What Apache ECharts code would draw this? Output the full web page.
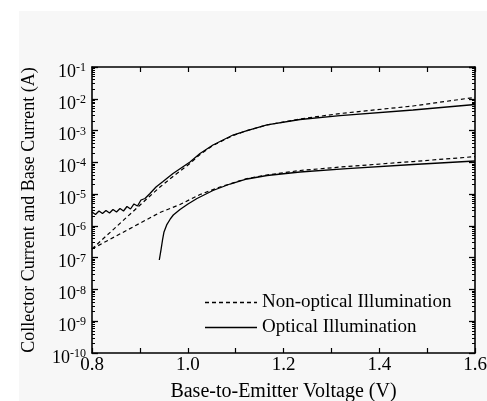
<!DOCTYPE html>
<html>
<head>
<meta charset="utf-8">
<script src="https://cdn.jsdelivr.net/npm/echarts@6/dist/echarts.min.js"></script>
<style>
html, body { margin: 0; padding: 0; background: #ffffff; }
#wrap { position: absolute; left: 0; top: 0; width: 487px; height: 401px; background: #ffffff; }
#chart { position: absolute; left: 19px; top: 11px; width: 468px; height: 390px; }
</style>
</head>
<body>
<div id="wrap"><div id="chart"></div></div>
<script>
// ---- data ----
const seriesNames = ['Non-optical Illumination', 'Optical Illumination'];

// Collector current, non-optical (dashed, upper)
const icDarkV = [0.8000, 0.9211, 0.9420, 0.9692, 1.0047, 1.0256, 1.0527, 1.0945, 1.1238, 1.1656, 1.2345, 1.3180, 1.4705, 1.6000];
const icDarkI = [1.88e-7, 8.73e-6, 1.67e-5, 3.59e-5, 9.20e-5, 1.77e-4, 3.39e-4, 7.00e-4, 1.00e-3, 1.50e-3, 2.31e-3, 3.44e-3, 5.93e-3, 1.11e-2];

// Collector current, optical (solid, upper)
const icLightV = [0.8000, 0.8073, 0.8146, 0.8219, 0.8292, 0.8366, 0.8439, 0.8512, 0.8585, 0.8658, 0.8731, 0.8804, 0.8877, 0.8950, 0.9023, 0.9107, 0.9211, 0.9337, 0.9483, 0.9692, 1.0047, 1.0256, 1.0527, 1.0945, 1.1238, 1.1656, 1.2345, 1.3180, 1.4705, 1.6000];
const icLightI = [2.74e-6, 2.29e-6, 2.94e-6, 2.45e-6, 3.05e-6, 2.55e-6, 3.28e-6, 2.74e-6, 3.53e-6, 2.94e-6, 4.07e-6, 3.40e-6, 4.89e-6, 4.23e-6, 6.53e-6, 7.28e-6, 1.05e-5, 1.67e-5, 2.49e-5, 4.46e-5, 1.03e-4, 1.90e-4, 3.52e-4, 7.24e-4, 1.00e-3, 1.50e-3, 2.23e-3, 2.94e-3, 4.44e-3, 6.61e-3];

// Base current, non-optical (dashed, lower)
const ibDarkV = [0.8000, 0.9420, 0.9838, 1.0256, 1.0674, 1.1238, 1.1656, 1.2345, 1.3326, 1.4705, 1.6000];
const ibDarkI = [1.88e-7, 2.64e-6, 4.71e-6, 9.73e-6, 1.67e-5, 3.10e-5, 4.00e-5, 5.53e-5, 7.40e-5, 1.06e-4, 1.51e-4];

// Base current, optical (solid, lower)
const ibLightV = [0.9406, 0.9441, 0.9473, 0.9504, 0.9560, 0.9629, 0.9698, 0.9838, 1.0005, 1.0193, 1.0527, 1.0883, 1.1238, 1.1656, 1.2345, 1.3326, 1.4705, 1.6000];
const ibLightI = [8.45e-8, 1.75e-7, 3.60e-7, 6.43e-7, 1.07e-6, 1.59e-6, 2.20e-6, 3.28e-6, 4.89e-6, 7.28e-6, 1.30e-5, 2.08e-5, 2.99e-5, 3.85e-5, 4.97e-5, 6.31e-5, 8.55e-5, 1.10e-4];

// axes
const xMin = 0.8, xMax = 1.6, xStep = 0.2;
const yExpMin = -10, yExpMax = -1;
const minorMultipliers = [2, 3, 4, 5, 6, 7, 8, 9];

// ---- build ----
function pairs(xs, ys) { return xs.map((x, i) => [x, ys[i]]); }
const minorValues = [];
for (let e = yExpMin; e < yExpMax; e++) {
  for (const m of minorMultipliers) minorValues.push(m * Math.pow(10, e));
}
// legend line icons (dashed and solid strokes)
function dashedIconPath(len, dash, gap) {
  let p = 'path://';
  for (let x = 0; x < len; x += dash + gap) {
    const w = Math.min(dash, len - x);
    p += 'M' + x + ',0h' + w + 'v1h-' + w + 'z';
  }
  return p;
}
const FONT = '"Liberation Serif", "Times New Roman", serif';
const BLACK = '#000000';

const chart = echarts.init(document.getElementById('chart'), null, { renderer: 'canvas' });

const yBase = {
  type: 'log', logBase: 10,
  min: Math.pow(10, yExpMin), max: Math.pow(10, yExpMax),
  interval: 1,
  splitLine: { show: false }, minorSplitLine: { show: false },
  gridIndex: 0
};
const yMajorTick = { show: true, inside: true, length: 6, lineStyle: { color: BLACK, width: 1.3 } };
const yMinorTick = { show: true, inside: true, length: 3, customValues: minorValues, lineStyle: { color: BLACK, width: 1 } };

const xBase = {
  type: 'value', min: xMin, max: xMax, interval: xStep,
  splitLine: { show: false },
  minorTick: { show: true, splitNumber: 2, length: 5, lineStyle: { color: BLACK, width: 1.2 } },
  axisTick: { show: true, inside: true, length: 5, lineStyle: { color: BLACK, width: 1.2 } },
  axisLine: { show: true, onZero: false, lineStyle: { color: BLACK, width: 1.5 } },
  gridIndex: 0
};

const option = {
  backgroundColor: '#f7f7f7',
  animation: false,
  grid: { left: 73, right: 12, top: 56, bottom: 48, containLabel: false, outerBoundsMode: 'none' },
  legend: {
    orient: 'vertical', left: 186, top: 282, padding: 0,
    itemWidth: 52, itemHeight: 1.3, itemGap: 6,
    symbolKeepAspect: false,
    data: [
      { name: seriesNames[0], icon: dashedIconPath(52, 4, 3) },
      { name: seriesNames[1], icon: 'path://M0,0h52v1h-52z' }
    ],
    textStyle: { fontFamily: FONT, fontSize: 19, color: BLACK },
    selectedMode: false
  },
  xAxis: [
    Object.assign({}, xBase, {
      position: 'bottom',
      name: 'Base-to-Emitter Voltage (V)', nameLocation: 'middle', nameGap: 29,
      nameTextStyle: { fontFamily: FONT, fontSize: 20, color: BLACK },
      axisLabel: {
        show: true, margin: 3, fontFamily: FONT, fontSize: 19, color: BLACK,
        formatter: v => v.toFixed(1), showMinLabel: true, showMaxLabel: true
      }
    }),
    Object.assign({}, xBase, { position: 'top', axisLabel: { show: false } })
  ],
  yAxis: [
    Object.assign({}, yBase, {
      position: 'left',
      axisLine: { show: true, onZero: false, lineStyle: { color: BLACK, width: 1.6 } },
      axisTick: yMajorTick,
      name: 'Collector Current and Base Current (A)', nameLocation: 'middle', nameGap: 54,
      nameTextStyle: { fontFamily: FONT, fontSize: 18, color: BLACK },
      axisLabel: {
        show: true, margin: 6, padding: [10, 0, 0, 0],
        formatter: v => '{b|10}{s|' + Math.round(Math.log10(v)) + '}',
        rich: {
          b: { fontFamily: FONT, fontSize: 18, color: BLACK, lineHeight: 20 },
          s: { fontFamily: FONT, fontSize: 12, color: BLACK, verticalAlign: 'top', lineHeight: 12 }
        }
      }
    }),
    Object.assign({}, yBase, {
      position: 'left',
      axisLine: { show: false }, axisLabel: { show: false },
      axisTick: yMinorTick
    }),
    Object.assign({}, yBase, {
      position: 'right',
      axisLine: { show: true, onZero: false, lineStyle: { color: BLACK, width: 1.6 } },
      axisLabel: { show: false },
      axisTick: yMajorTick
    }),
    Object.assign({}, yBase, {
      position: 'right',
      axisLine: { show: false }, axisLabel: { show: false },
      axisTick: yMinorTick
    })
  ],
  series: [
    {
      name: seriesNames[0], type: 'line', xAxisIndex: 0, yAxisIndex: 0,
      data: pairs(icDarkV, icDarkI), symbol: 'none', smooth: false,
      lineStyle: { color: BLACK, width: 1.2, type: [4, 3] }, itemStyle: { color: BLACK }
    },
    {
      name: seriesNames[0], type: 'line', xAxisIndex: 0, yAxisIndex: 0,
      data: pairs(ibDarkV, ibDarkI), symbol: 'none', smooth: false,
      lineStyle: { color: BLACK, width: 1.2, type: [4, 3] }, itemStyle: { color: BLACK }
    },
    {
      name: seriesNames[1], type: 'line', xAxisIndex: 0, yAxisIndex: 0,
      data: pairs(icLightV, icLightI), symbol: 'none', smooth: false,
      lineStyle: { color: BLACK, width: 1.3, type: 'solid' }, itemStyle: { color: BLACK }
    },
    {
      name: seriesNames[1], type: 'line', xAxisIndex: 0, yAxisIndex: 0,
      data: pairs(ibLightV, ibLightI), symbol: 'none', smooth: false,
      lineStyle: { color: BLACK, width: 1.3, type: 'solid' }, itemStyle: { color: BLACK }
    }
  ]
};
chart.setOption(option);
</script>
</body>
</html>
